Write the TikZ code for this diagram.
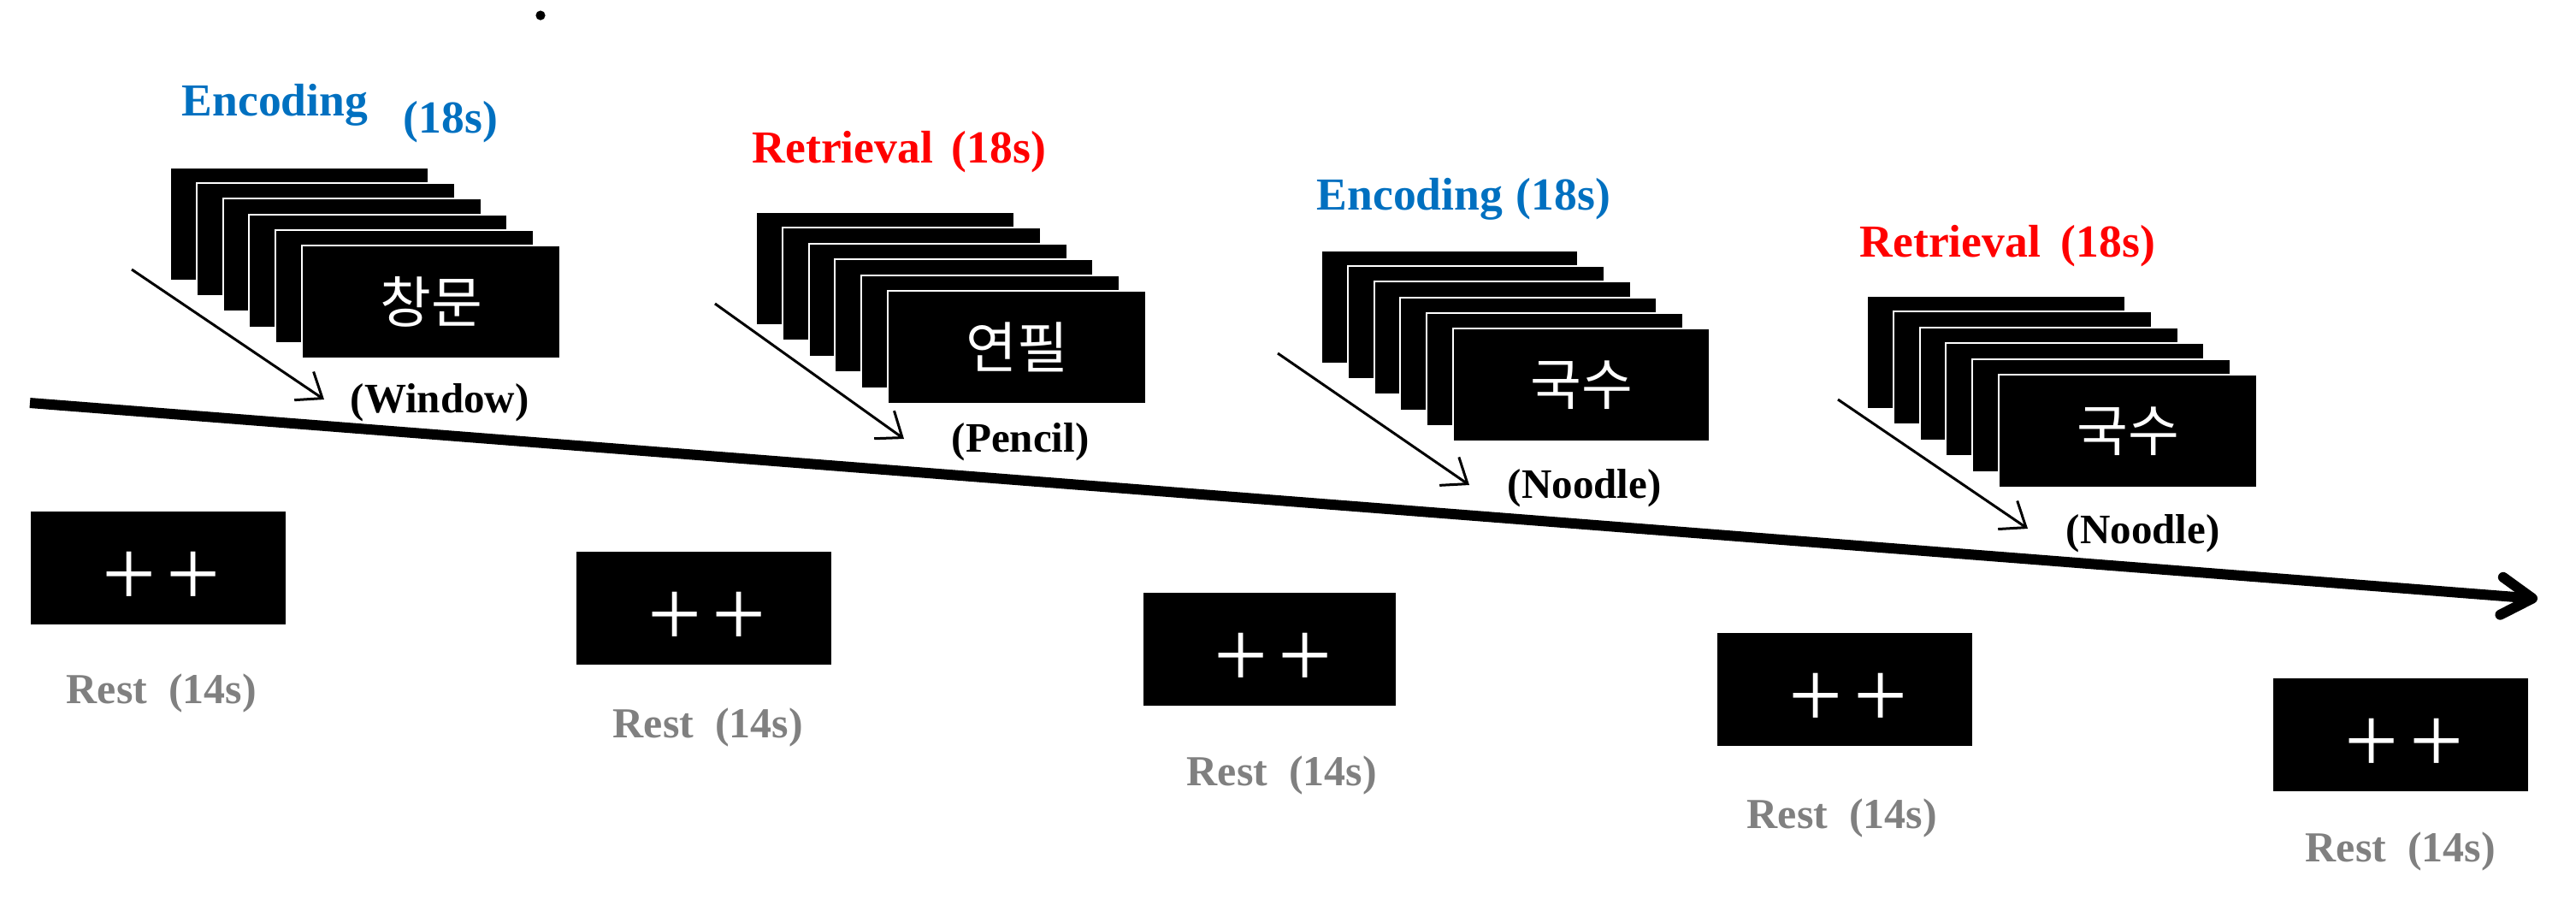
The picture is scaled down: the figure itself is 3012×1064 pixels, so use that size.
\documentclass[tikz,border=0pt]{standalone}
\usepackage{fontspec}
\setmainfont{Liberation Serif}
\newfontfamily\kor{Noto Sans CJK KR}
\usetikzlibrary{arrows.meta}
\definecolor{encblue}{RGB}{0,112,192}
\definecolor{retred}{RGB}{255,0,0}
\definecolor{restgray}{RGB}{128,128,128}
\newcommand\drawstack[7]{%
  \foreach \i in {0,...,4}{\node[card, minimum width=#6*0.25pt] (#1-\i) at ({#2+\i*#4},{#3+\i*#5}) {};}
  \node[card, minimum width=#6*0.25pt] (#1) at ({#2+5*#4},{#3+5*#5}) {};
  \node[word] (#1-w) at (#1.center) {#7};
}
\begin{document}
\begin{tikzpicture}[x=0.25pt,y=-0.25pt,
  card/.style={fill=black, draw=white, line width=0.5pt, inner sep=0pt, anchor=north west, minimum height=33pt},
  word/.style={text=white, inner sep=0pt, font=\kor\fontsize{16.25pt}{19pt}\selectfont},
  restbox/.style={fill=black, inner sep=0pt, minimum width=74.5pt, minimum height=33pt},
  cross/.style={text=white, inner sep=0pt, font=\fontsize{28pt}{30pt}\selectfont},
  hdr/.style={inner sep=0pt, anchor=base west, font=\fontsize{13.4pt}{15pt}\selectfont\bfseries},
  gloss/.style={inner sep=0pt, anchor=base west, font=\fontsize{12.25pt}{14pt}\selectfont\bfseries},
  resttxt/.style={inner sep=0pt, anchor=base west, text=restgray, font=\fontsize{12.5pt}{14pt}\selectfont\bfseries},
  thinarrow/.style={line width=0.75pt, -{Straight Barb[length=6.5pt,width=10pt]}},
  timeline/.style={line width=3pt, -{Straight Barb[length=9pt,width=11pt,round]}}
]
\useasboundingbox (0,0) rectangle (3012,1064);

% stray dot
\node[circle, fill=black, inner sep=0pt, minimum size=2.8pt] (dot) at (632,18) {};

% timeline
\coordinate (tl-s) at (35,471);
\coordinate (tl-e) at (2967,700);
\draw[timeline] (tl-s) -- (tl-e);

% stack arrows
\coordinate (a1s) at (154,315);  \coordinate (a1e) at (379,467);
\coordinate (a2s) at (836,355);  \coordinate (a2e) at (1057,513);
\coordinate (a3s) at (1494,413); \coordinate (a3e) at (1718,567);
\coordinate (a4s) at (2149,467); \coordinate (a4e) at (2371,618);
\draw[thinarrow] (a1s) -- (a1e);
\draw[thinarrow] (a2s) -- (a2e);
\draw[thinarrow] (a3s) -- (a3e);
\draw[thinarrow] (a4s) -- (a4e);

% stacks
\drawstack{s1}{198}{195}{30.8}{18.2}{302}{창문}
\drawstack{s2}{883}{247}{30.8}{18.4}{302}{연필}
\drawstack{s3}{1544}{292}{30.8}{18.2}{300}{국수}
\drawstack{s4}{2182}{345}{30.8}{18.4}{302}{국수}

% headers
\node[hdr, text=encblue] (h1) at (212,135) {Encoding};
\node[hdr, text=encblue] (h1t) at (471,155) {(18s)};
\node[hdr, text=retred] (h2) at (879,190) {Retrieval};
\node[hdr, text=retred] (h2t) at (1112,190) {(18s)};
\node[hdr, text=encblue] (h3) at (1539,245) {Encoding};
\node[hdr, text=encblue] (h3t) at (1772,245) {(18s)};
\node[hdr, text=retred] (h4) at (2174,300) {Retrieval};
\node[hdr, text=retred] (h4t) at (2409,300) {(18s)};

% glosses
\node[gloss] (g1) at (409,482) {(Window)};
\node[gloss] (g2) at (1112,528) {(Pencil)};
\node[gloss] (g3) at (1762,582) {(Noodle)};
\node[gloss] (g4) at (2415,635) {(Noodle)};

% rest boxes
\node[restbox] (r1) at (185,664) {};
\node[restbox] (r2) at (823,710.5) {};
\node[restbox, minimum width=73.75pt] (r3) at (1484.5,758.5) {};
\node[restbox] (r4) at (2157,806) {};
\node[restbox] (r5) at (2807,858.5) {};
\foreach \r in {r1,r2,r3,r4,r5}{
  \node[cross] (\r-x) at ([shift={(4,13)}]\r.center) {+\kern3pt+};
}
\node[resttxt] (t1) at (77,822) {Rest\hspace{0.5em}(14s)};
\node[resttxt] (t2) at (716,862) {Rest\hspace{0.5em}(14s)};
\node[resttxt] (t3) at (1387,918) {Rest\hspace{0.5em}(14s)};
\node[resttxt] (t4) at (2042,968) {Rest\hspace{0.5em}(14s)};
\node[resttxt] (t5) at (2695,1007) {Rest\hspace{0.5em}(14s)};
\end{tikzpicture}
\end{document}
